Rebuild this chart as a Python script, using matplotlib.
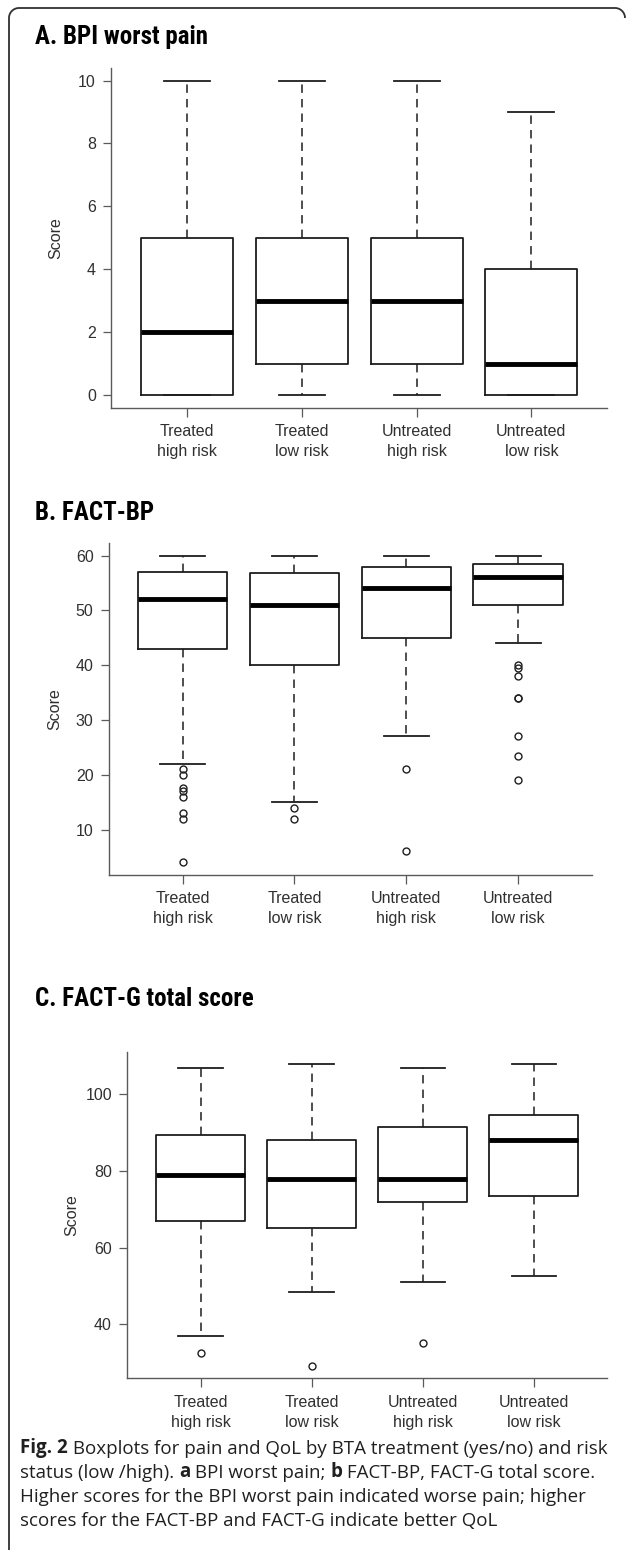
import numpy as np
import matplotlib
matplotlib.use('Agg')
import matplotlib.pyplot as plt
from matplotlib import font_manager

W, H = 627, 1550

groups = ['Treated\nhigh risk', 'Treated\nlow risk', 'Untreated\nhigh risk', 'Untreated\nlow risk']

# A. BPI worst pain
bpi_med = [2, 3, 3, 1]
bpi_q1 = [0, 1, 1, 0]
bpi_q3 = [5, 5, 5, 4]
bpi_lo = [0, 0, 0, 0]
bpi_hi = [10, 10, 10, 9]
bpi_out = [[], [], [], []]

# B. FACT-BP
bp_med = [52, 51, 54, 56]
bp_q1 = [43, 40, 45, 51]
bp_q3 = [57, 56.75, 58, 58.5]
bp_lo = [22, 15, 27, 44]
bp_hi = [60, 60, 60, 60]
bp_out = [[21, 20, 17.5, 17, 16, 13, 12, 4],
          [14, 12],
          [21, 6],
          [40, 39.5, 38, 34, 34, 27, 23.5, 19]]

# C. FACT-G total score
g_med = [79, 78, 78, 88]
g_q1 = [67, 65, 72, 73.5]
g_q3 = [89.5, 88, 91.5, 94.5]
g_lo = [37, 48.5, 51, 52.5]
g_hi = [107, 108, 107, 108]
g_out = [[32.5], [29], [35], []]

LINE = '#1e1e1e'
AXIS = '#5a5a5a'
TEXT = '#303030'


def pick_title_font():
    for name, size in [('Liberation Sans Narrow', 18.5), ('Roboto Condensed', 18)]:
        try:
            font_manager.findfont(name, fallback_to_default=False)
            return name, size
        except ValueError:
            pass
    return 'Liberation Sans', 16.5


TITLE_FONT, TITLE_SIZE = pick_title_font()


def make_stats(med, q1, q3, lo, hi, out):
    stats = []
    for i in range(len(med)):
        stats.append(dict(med=med[i], q1=q1[i], q3=q3[i], whislo=lo[i], whishi=hi[i],
                          fliers=np.array(out[i], dtype=float)))
    return stats


def px_axes(fig, left, top, right, bottom):
    return fig.add_axes([left / W, 1 - bottom / H, (right - left) / W, (bottom - top) / H])


def draw_panel(ax, stats, yticks):
    ax.bxp(stats, positions=[1, 2, 3, 4], widths=0.8, capwidths=0.4,
           boxprops=dict(color=LINE, linewidth=1.3),
           medianprops=dict(color='black', linewidth=3.5, solid_capstyle='butt'),
           whiskerprops=dict(color=LINE, linewidth=1.1, linestyle=(0, (5.5, 4))),
           capprops=dict(color=LINE, linewidth=1.3),
           flierprops=dict(marker='o', markersize=5, markerfacecolor='none',
                           markeredgecolor=LINE, markeredgewidth=1.0))

    lows = [s['whislo'] for s in stats] + [v for s in stats for v in s['fliers']]
    highs = [s['whishi'] for s in stats] + [v for s in stats for v in s['fliers']]
    lo, hi = min(lows), max(highs)
    pad = (hi - lo) * 0.04
    ax.set_ylim(lo - pad, hi + pad)
    ax.set_xlim(0.5 - 0.16, 4.5 + 0.16)

    ax.set_yticks(yticks)
    ax.set_yticklabels([str(t) for t in yticks])
    ax.set_xticks([1, 2, 3, 4])
    ax.set_xticklabels(groups, linespacing=1.4)

    for side in ['top', 'right']:
        ax.spines[side].set_visible(False)
    for side in ['left', 'bottom']:
        ax.spines[side].set_color(AXIS)
        ax.spines[side].set_linewidth(1.0)
    ax.tick_params(axis='y', length=6, width=0.9, color=AXIS, pad=5,
                   labelsize=11.5, labelcolor=TEXT)
    ax.tick_params(axis='x', length=6.5, width=0.9, color=AXIS, pad=5.5,
                   labelsize=11.5, labelcolor=TEXT)
    ax.set_facecolor('none')


def caption_line(ax, x, y, parts):
    prev = None
    for text, bold in parts:
        weight = 'bold' if bold else 'normal'
        if prev is None:
            prev = ax.text(x, y, text, fontsize=13.5, fontweight=weight, family='Open Sans',
                           color='#202020', va='bottom', ha='left')
        else:
            prev = ax.annotate(text, xy=(1, 0), xycoords=prev, fontsize=13.5, fontweight=weight,
                               family='Open Sans', color='#202020', va='bottom', ha='left')


def draw_border(ax):
    # rounded frame: top-right corner, top edge, top-left corner, left edge
    r = 10
    t = np.linspace(0, np.pi / 2, 20)
    xs = list(615 + r * np.cos(t)) + list(19 + r * np.cos(t + np.pi / 2)) + [9]
    ys = list(18 - r * np.sin(t)) + list(18 - r * np.sin(t + np.pi / 2)) + [1560]
    ax.plot(xs, ys, color='#303030', linewidth=1.3, solid_capstyle='butt')


if __name__ == "__main__":
    plt.rcParams['font.family'] = ['Liberation Sans', 'DejaVu Sans']

    fig = plt.figure(figsize=(W / 100, H / 100), dpi=100)

    # page layer in pixel units: frame, titles, y labels, caption
    page = fig.add_axes([0, 0, 1, 1], zorder=0)
    page.set_xlim(0, W)
    page.set_ylim(H, 0)
    page.axis('off')
    draw_border(page)

    page.text(35, 44, 'A. BPI worst pain', fontsize=TITLE_SIZE, fontweight='bold',
              family=TITLE_FONT, va='baseline')
    page.text(35, 520, 'B. FACT-BP', fontsize=TITLE_SIZE, fontweight='bold',
              family=TITLE_FONT, va='baseline')
    page.text(35, 1006, 'C. FACT-G total score', fontsize=TITLE_SIZE, fontweight='bold',
              family=TITLE_FONT, va='baseline')

    ax_a = px_axes(fig, 111.2, 68, 607.2, 407.7)
    draw_panel(ax_a, make_stats(bpi_med, bpi_q1, bpi_q3, bpi_lo, bpi_hi, bpi_out),
               [0, 2, 4, 6, 8, 10])
    page.text(56, 238, 'Score', rotation=90, ha='center', va='center', fontsize=11.5, color=TEXT)

    ax_b = px_axes(fig, 108.8, 543.3, 592, 874.7)
    draw_panel(ax_b, make_stats(bp_med, bp_q1, bp_q3, bp_lo, bp_hi, bp_out),
               [10, 20, 30, 40, 50, 60])
    page.text(55, 709, 'Score', rotation=90, ha='center', va='center', fontsize=11.5, color=TEXT)

    ax_c = px_axes(fig, 127.2, 1051.7, 607.2, 1378.3)
    draw_panel(ax_c, make_stats(g_med, g_q1, g_q3, g_lo, g_hi, g_out),
               [40, 60, 80, 100])
    page.text(72, 1215, 'Score', rotation=90, ha='center', va='center', fontsize=11.5, color=TEXT)

    caption_line(page, 20, 1458, [('Fig. 2', True),
                                  (' Boxplots for pain and QoL by BTA treatment (yes/no) and risk', False)])
    caption_line(page, 20, 1482, [('status (low /high). ', False), ('a', True),
                                  (' BPI worst pain; ', False), ('b', True),
                                  (' FACT-BP, FACT-G total score.', False)])
    caption_line(page, 20, 1506, [('Higher scores for the BPI worst pain indicated worse pain; higher', False)])
    caption_line(page, 20, 1530, [('scores for the FACT-BP and FACT-G indicate better QoL', False)])

    fig.savefig('out.png', dpi=100)
